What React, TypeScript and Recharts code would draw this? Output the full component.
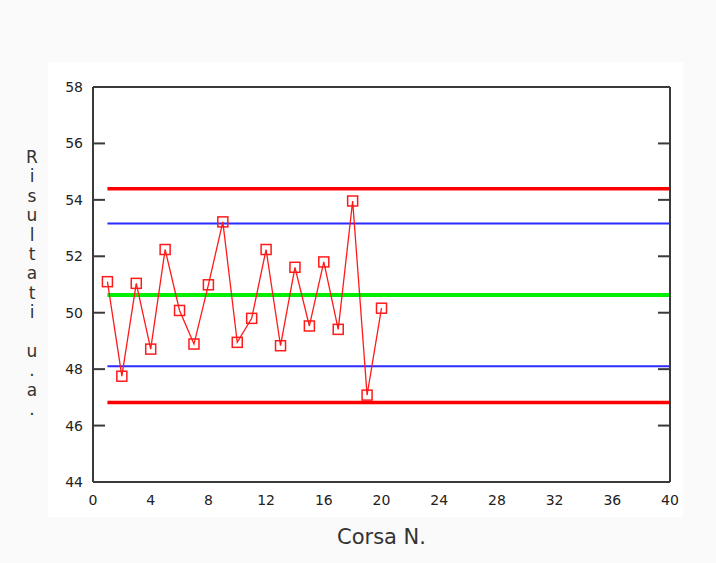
import { ComposedChart, Line, XAxis, YAxis, Label } from 'recharts';

// run number and measured result
const runs = [1, 2, 3, 4, 5, 6, 7, 8, 9, 10, 11, 12, 13, 14, 15, 16, 17, 18, 19, 20];
const results = [
  51.1, 47.75, 51.04, 48.71, 52.24, 50.08, 48.89, 50.99, 53.22, 48.95,
  49.8, 52.24, 48.83, 51.61, 49.53, 51.8, 49.41, 53.96, 47.08, 50.16,
];

const xTicks = [0, 4, 8, 12, 16, 20, 24, 28, 32, 36, 40];
const yTicks = [44, 46, 48, 50, 52, 54, 56, 58];

// control limits, drawn from run 1 to run 40
const limitRange = [1, 40];
const upperControl = 54.39;
const upperWarning = 53.16;
const centreLine = 50.63;
const lowerWarning = 48.1;
const lowerControl = 46.82;

const yTitle = 'Risultati u.a.';

const points = runs.map((x, i) => ({ x, y: results[i] }));
const flat = (v: number) => limitRange.map((x) => ({ x, y: v }));

const axisColor = '#3a3a3a';
const tickFont = { fontFamily: 'DejaVu Sans', fontSize: 14, fill: '#222' };
const frameLine = { stroke: axisColor, strokeWidth: 2 };

function SquareDot(props: any) {
  const { cx, cy, index } = props;
  return (
    <rect
      key={`sq-${index}`}
      x={cx - 5}
      y={cy - 5}
      width={10}
      height={10}
      fill="none"
      stroke="#ff1a1a"
      strokeWidth={1.5}
    />
  );
}

function StackedTitle() {
  return (
    <text x={32} y={163} textAnchor="middle" fontFamily="DejaVu Sans" fontSize={17} fill="#333">
      {yTitle.split('').map((ch, i) => (
        <tspan key={i} x={32} y={163 + i * 19.4}>
          {ch === ' ' ? '\u00a0' : ch}
        </tspan>
      ))}
    </text>
  );
}

export default function App() {
  return (
    <div style={{ position: 'absolute', left: 0, top: 0, width: 716, height: 563, background: '#fafafa' }}>
      <div style={{ position: 'absolute', left: 48, top: 62, width: 635, height: 455, background: '#fff' }} />
      <div style={{ position: 'absolute', left: 0, top: 0 }}>
        <ComposedChart width={716} height={563} margin={{ top: 87, right: 46, left: 0, bottom: 0 }}>
          {/* labelled axes */}
          <XAxis
            type="number"
            dataKey="x"
            domain={[0, 40]}
            ticks={xTicks}
            interval={0}
            allowDataOverflow
            height={81}
            axisLine={false}
            tickLine={false}
            tickSize={0}
            tickMargin={13}
            tick={tickFont}
          >
            <Label value="Corsa N." position="bottom" offset={-34} style={{ fontFamily: 'DejaVu Sans', fontSize: 21, fill: '#333' }} />
          </XAxis>
          <YAxis
            type="number"
            domain={[44, 58]}
            ticks={yTicks}
            interval={0}
            allowDataOverflow
            width={93}
            axisLine={false}
            tickLine={false}
            tickSize={0}
            tickMargin={10}
            tick={tickFont}
            label={<StackedTitle />}
          />
          {/* frame with inward ticks on all four sides */}
          <XAxis
            xAxisId="frameBottom"
            orientation="bottom"
            mirror
            type="number"
            domain={[0, 40]}
            ticks={xTicks}
            interval={0}
            allowDataOverflow
            height={30}
            axisLine={frameLine}
            tickLine={frameLine}
            tickSize={12}
            tickFormatter={() => ''}
          />
          <XAxis
            xAxisId="frameTop"
            orientation="top"
            mirror
            type="number"
            domain={[0, 40]}
            ticks={xTicks}
            interval={0}
            allowDataOverflow
            height={30}
            axisLine={frameLine}
            tickLine={frameLine}
            tickSize={12}
            tickFormatter={() => ''}
          />
          <YAxis
            yAxisId="frameLeft"
            orientation="left"
            mirror
            type="number"
            domain={[44, 58]}
            ticks={yTicks}
            interval={0}
            allowDataOverflow
            width={30}
            axisLine={frameLine}
            tickLine={frameLine}
            tickSize={12}
            tickFormatter={() => ''}
          />
          <YAxis
            yAxisId="frameRight"
            orientation="right"
            mirror
            type="number"
            domain={[44, 58]}
            ticks={yTicks}
            interval={0}
            allowDataOverflow
            width={30}
            axisLine={frameLine}
            tickLine={frameLine}
            tickSize={12}
            tickFormatter={() => ''}
          />
          <Line data={flat(upperControl)} dataKey="y" stroke="#ff0000" strokeWidth={3.5} dot={false} isAnimationActive={false} />
          <Line data={flat(upperWarning)} dataKey="y" stroke="#2b2bff" strokeWidth={2} dot={false} isAnimationActive={false} />
          <Line data={flat(centreLine)} dataKey="y" stroke="#00ee00" strokeWidth={4} dot={false} isAnimationActive={false} />
          <Line data={flat(lowerWarning)} dataKey="y" stroke="#2b2bff" strokeWidth={2} dot={false} isAnimationActive={false} />
          <Line data={flat(lowerControl)} dataKey="y" stroke="#ff0000" strokeWidth={3.5} dot={false} isAnimationActive={false} />
          <Line
            data={points}
            dataKey="y"
            stroke="#ff1a1a"
            strokeWidth={1.3}
            dot={<SquareDot />}
            isAnimationActive={false}
          />
        </ComposedChart>
      </div>
    </div>
  );
}
